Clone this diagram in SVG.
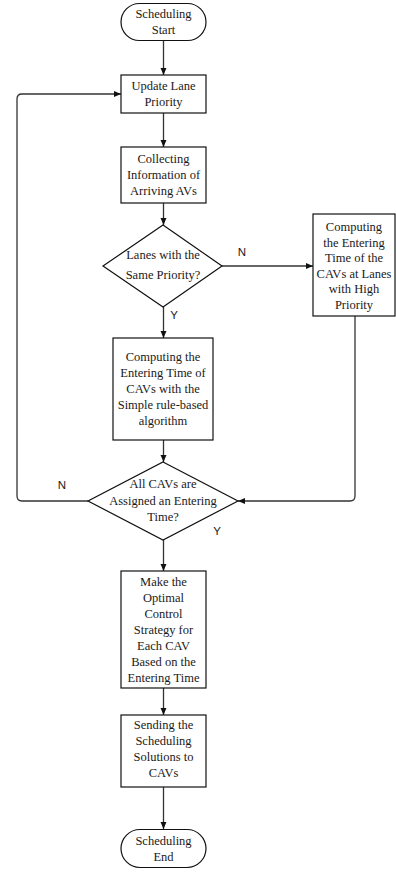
<svg xmlns="http://www.w3.org/2000/svg" width="396" height="872" viewBox="0 0 396 872">
<defs>
<marker id="ah" markerUnits="userSpaceOnUse" markerWidth="8" markerHeight="7" refX="7" refY="3" orient="auto">
<path d="M0,0 L7,3 L0,6 z" fill="#111"/>
</marker>
<style>
.box{fill:#fff;stroke:#111;stroke-width:1.2}
.t{font-family:"Liberation Serif","Times New Roman",serif;font-size:12.5px;fill:#1a1a1a;text-anchor:middle}
.lbl{font-family:"Liberation Sans",Arial,sans-serif;font-size:11.5px;fill:#1a1a1a;text-anchor:middle}
.c{fill:none;stroke:#333;stroke-width:1.3;marker-end:url(#ah)}
</style>
</defs>
<rect width="396" height="872" fill="#fff"/>
<g id="connectors">
<path class="c" d="M163.5,40 V75"/>
<path class="c" d="M163.5,113 V147"/>
<path class="c" d="M163.5,203 V225"/>
<path class="c" d="M163.5,307 V338"/>
<path class="c" d="M222,266 H313"/>
<path class="c" d="M163.5,440 V462"/>
<path class="c" d="M355,316 V496 Q355,501 350,501 H238"/>
<path class="c" d="M88,501 H22 Q17,501 17,496 V99 Q17,94 22,94 H121"/>
<path class="c" d="M163.5,540 V571"/>
<path class="c" d="M163.5,688 V715"/>
<path class="c" d="M163.5,787 V829"/>
<text class="lbl" x="242" y="256">N</text>
<text class="lbl" x="174" y="319">Y</text>
<text class="lbl" x="62" y="489">N</text>
<text class="lbl" x="217" y="535">Y</text>
</g>
<g id="start">
<rect class="box" x="121" y="3.5" width="85" height="37" rx="18.5"/>
<text class="t" x="163.5" y="17.5">Scheduling</text>
<text class="t" x="163.5" y="33.5">Start</text>
</g>
<g id="update">
<rect class="box" x="121" y="75" width="85" height="38"/>
<text class="t" x="163.5" y="90">Update Lane</text>
<text class="t" x="163.5" y="106">Priority</text>
</g>
<g id="collect">
<rect class="box" x="121" y="147" width="85" height="56"/>
<text class="t" x="163.5" y="163">Collecting</text>
<text class="t" x="163.5" y="179">Information of</text>
<text class="t" x="163.5" y="195">Arriving AVs</text>
</g>
<g id="decision1">
<polygon class="box" points="163,225 222,266 163,307 103,266"/>
<text class="t" x="163" y="259">Lanes with the</text>
<text class="t" x="163" y="279">Same Priority?</text>
</g>
<g id="highpriority">
<rect class="box" x="313" y="214" width="82" height="102"/>
<text class="t" x="354" y="231">Computing</text>
<text class="t" x="354" y="246.5">the Entering</text>
<text class="t" x="354" y="262">Time of the</text>
<text class="t" x="354" y="277.5">CAVs at Lanes</text>
<text class="t" x="354" y="293">with High</text>
<text class="t" x="354" y="308.5">Priority</text>
</g>
<g id="rulebased">
<rect class="box" x="113" y="338" width="100" height="102"/>
<text class="t" x="163" y="361">Computing the</text>
<text class="t" x="163" y="377">Entering Time of</text>
<text class="t" x="163" y="393">CAVs with the</text>
<text class="t" x="163" y="409">Simple rule-based</text>
<text class="t" x="163" y="425">algorithm</text>
</g>
<g id="decision2">
<polygon class="box" points="163,462 238,501 163,540 88,501"/>
<text class="t" x="163" y="488">All CAVs are</text>
<text class="t" x="163" y="505">Assigned an Entering</text>
<text class="t" x="163" y="521">Time?</text>
</g>
<g id="optimal">
<rect class="box" x="121" y="571" width="85" height="117"/>
<text class="t" x="163.5" y="586">Make the</text>
<text class="t" x="163.5" y="602">Optimal</text>
<text class="t" x="163.5" y="618">Control</text>
<text class="t" x="163.5" y="634">Strategy for</text>
<text class="t" x="163.5" y="650">Each CAV</text>
<text class="t" x="163.5" y="666">Based on the</text>
<text class="t" x="163.5" y="682">Entering Time</text>
</g>
<g id="sending">
<rect class="box" x="121" y="715" width="85" height="72"/>
<text class="t" x="163.5" y="729">Sending the</text>
<text class="t" x="163.5" y="745">Scheduling</text>
<text class="t" x="163.5" y="761">Solutions to</text>
<text class="t" x="163.5" y="777">CAVs</text>
</g>
<g id="end">
<rect class="box" x="121" y="829.5" width="85" height="38" rx="19"/>
<text class="t" x="163.5" y="845">Scheduling</text>
<text class="t" x="163.5" y="861">End</text>
</g>
</svg>
